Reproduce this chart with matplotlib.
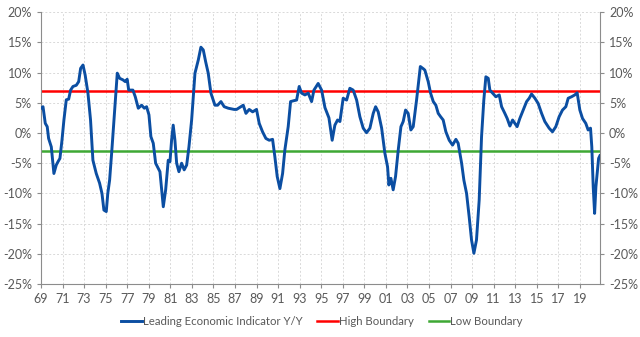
import matplotlib.pyplot as plt

# decimal year / LEI y/y (%)
years = [1969.0, 1969.19, 1969.4, 1969.58, 1969.71, 1969.96, 1970.2, 1970.42, 1970.58, 1970.76,
         1970.95, 1971.13, 1971.35, 1971.57, 1971.75, 1971.97, 1972.28, 1972.5, 1972.68, 1972.9,
         1973.1, 1973.36, 1973.6, 1973.82, 1974.13, 1974.44, 1974.66, 1974.84, 1975.06, 1975.2,
         1975.37, 1975.58, 1975.84, 1976.08, 1976.3, 1976.6, 1976.82, 1977.0, 1977.14, 1977.53,
         1977.75, 1978.03, 1978.34, 1978.59, 1978.8, 1979.02, 1979.2, 1979.42, 1979.64, 1979.88,
         1980.04, 1980.2, 1980.35, 1980.57, 1980.81, 1980.97, 1981.12, 1981.27, 1981.43, 1981.59,
         1981.8, 1982.05, 1982.29, 1982.52, 1982.73, 1982.98, 1983.29, 1983.6, 1983.84, 1984.06,
         1984.28, 1984.52, 1984.77, 1985.14, 1985.39, 1985.7, 1986.0, 1986.38, 1986.93, 1987.15,
         1987.77, 1988.02, 1988.32, 1988.64, 1989.0, 1989.25, 1989.56, 1989.87, 1990.18, 1990.49,
         1990.7, 1990.92, 1991.17, 1991.42, 1991.63, 1991.94, 1992.16, 1992.47, 1992.72, 1992.96,
         1993.18, 1993.49, 1993.8, 1994.11, 1994.33, 1994.72, 1995.04, 1995.35, 1995.72, 1996.02,
         1996.27, 1996.52, 1996.74, 1997.04, 1997.36, 1997.66, 1997.97, 1998.29, 1998.59, 1998.9,
         1999.21, 1999.52, 1999.83, 2000.05, 2000.29, 2000.61, 2000.91, 2001.16, 2001.28, 2001.47,
         2001.68, 2001.9, 2002.15, 2002.4, 2002.61, 2002.83, 2003.07, 2003.32, 2003.54, 2003.85,
         2004.2, 2004.5, 2004.62, 2004.93, 2005.15, 2005.4, 2005.64, 2005.86, 2006.08, 2006.32,
         2006.57, 2006.88, 2007.19, 2007.5, 2007.71, 2008.03, 2008.24, 2008.49, 2008.73, 2008.95,
         2009.17, 2009.41, 2009.66, 2009.88, 2010.09, 2010.28, 2010.5, 2010.65, 2010.9, 2011.21,
         2011.52, 2011.74, 2012.04, 2012.26, 2012.51, 2012.76, 2012.97, 2013.18, 2013.43, 2013.74,
         2014.06, 2014.3, 2014.52, 2014.83, 2015.13, 2015.45, 2015.75, 2016.15, 2016.46, 2016.77,
         2017.08, 2017.39, 2017.7, 2017.92, 2018.23, 2018.53, 2018.75, 2019.0, 2019.25, 2019.55,
         2019.77, 2019.99, 2020.11, 2020.24, 2020.37, 2020.49, 2020.61, 2020.74, 2020.86]
lei = [4.1, 4.35, 1.6, 1.05, -0.9, -2.3, -6.7, -5.3, -4.75, -4.2,
       -1.2, 2.15, 5.5, 5.6, 7.1, 7.7, 7.9, 8.5, 10.7, 11.25,
       9.6, 6.6, 2.15, -4.5, -6.7, -8.3, -10.0, -12.75, -13.0, -10.0,
       -7.8, -2.8, 3.8, 9.9, 9.05, 8.8, 8.5, 8.9, 7.1, 7.1,
       6.0, 4.1, 4.6, 4.1, 4.35, 3.0, -0.6, -1.7, -5.0, -5.85,
       -6.4, -9.4, -12.2, -9.4, -4.5, -4.75, -1.2, 1.3, -1.2, -5.0,
       -6.4, -5.0, -6.1, -5.3, -2.3, 2.15, 9.9, 12.1, 14.2, 13.75,
       11.8, 9.9, 6.6, 4.6, 4.6, 5.2, 4.35, 4.1, 3.9, 3.9,
       4.6, 3.25, 3.9, 3.5, 3.9, 1.6, 0.2, -0.9, -1.2, -1.05,
       -3.9, -7.2, -9.2, -6.7, -2.8, 1.05, 5.2, 5.35, 5.45, 7.7,
       6.6, 6.3, 6.6, 5.2, 7.1, 8.2, 7.1, 4.2, 2.5, -1.2,
       1.3, 2.15, 1.9, 5.75, 5.45, 7.4, 7.1, 5.45, 2.7, 0.8,
       0.05, 0.8, 3.25, 4.35, 3.5, 0.8, -3.35, -5.6, -8.6, -7.5,
       -9.4, -7.2, -2.8, 1.05, 1.9, 3.8, 3.25, 0.5, 1.05, 5.45,
       11.0, 10.6, 10.4, 8.5, 6.6, 5.2, 4.6, 3.25, 2.7, 2.15,
       0.2, -1.2, -2.0, -1.05, -1.7, -5.0, -7.8, -10.0, -13.85, -17.7,
       -19.9, -17.7, -11.1, -0.6, 5.45, 9.3, 9.05, 7.1, 6.6, 6.0,
       6.3, 4.35, 3.25, 2.4, 1.15, 2.15, 1.6, 1.05, 2.4, 3.8,
       5.2, 5.75, 6.45, 5.75, 4.9, 3.25, 1.9, 0.8, 0.2, 1.05,
       2.7, 3.8, 4.35, 5.75, 6.0, 6.3, 6.65, 3.8, 2.4, 1.6,
       0.5, 0.8, -2.3, -8.9, -13.3, -8.9, -6.7, -4.2, -3.75]

high_boundary = 7
low_boundary = -3
tick_years = list(range(1969, 2021, 2))
tick_labels = [f"{y % 100:02d}" for y in tick_years]
y_ticks = list(range(-25, 21, 5))

plt.rcParams['font.family'] = ['Lato', 'DejaVu Sans']
txt = '#595959'

fig = plt.figure(figsize=(6.4, 3.37), dpi=100)
ax = fig.add_axes([0.064, 0.157, 0.8735, 0.807])

ax.plot(years, lei, color='#0b4ea2', lw=2.1, label='Leading Economic Indicator Y/Y', zorder=3)
ax.axhline(high_boundary, color='#ff0000', lw=1.8, label='High Boundary', zorder=2)
ax.axhline(low_boundary, color='#3ea834', lw=1.8, label='Low Boundary', zorder=2)

ax.set_xlim(1969, 2020.87)
ax.set_ylim(-25, 20)
ax.set_xticks(tick_years)
ax.set_xticklabels(tick_labels)
ax.set_yticks(y_ticks)
ax.set_yticklabels([f"{v}%" for v in y_ticks])
ax.grid(True, color='#d9d9d9', ls=(0, (2, 2)), lw=0.7, zorder=0)

for s in ['left', 'right', 'bottom']:
    ax.spines[s].set_color('#8c8c8c')
ax.spines['top'].set_visible(False)
ax.tick_params(axis='both', colors='#8c8c8c', labelcolor=txt, labelsize=9, length=3)
ax.tick_params(axis='y', right=True, labelright=True)

fig.legend(loc='center', bbox_to_anchor=(0.503, 0.045), ncol=3, frameon=False,
           fontsize=8.2, handlelength=1.8, handletextpad=0.1, columnspacing=1.3,
           labelcolor=txt)

fig.savefig('out.png', dpi=100)
